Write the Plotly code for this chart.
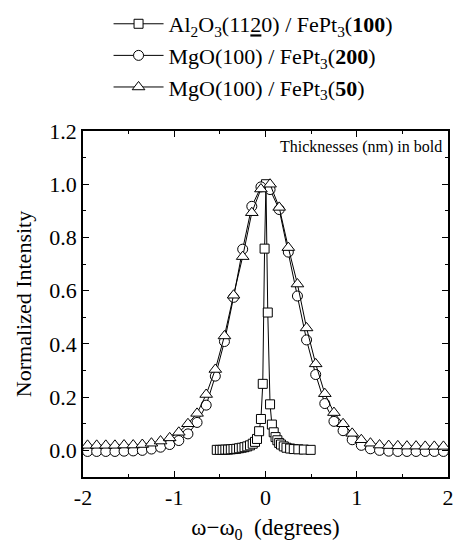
import plotly.graph_objects as go

FONT = "'Liberation Serif', 'DejaVu Serif'"

# MgO(100)/FePt3 films: omega offsets (degrees)
x_mgo = [-1.95, -1.85, -1.75, -1.65, -1.55, -1.45, -1.35, -1.25, -1.15, -1.05,
         -0.95, -0.85, -0.75, -0.65, -0.55, -0.45, -0.35, -0.25, -0.15, -0.05,
         0.05, 0.15, 0.25, 0.35, 0.45, 0.55, 0.65, 0.75, 0.85, 0.95,
         1.05, 1.15, 1.25, 1.35, 1.45, 1.55, 1.65, 1.75, 1.85, 1.95]

# MgO(100) / FePt3 (50 nm) - triangles
y_mgo50 = [0.019, 0.019, 0.019, 0.019, 0.020, 0.020, 0.022, 0.027, 0.035, 0.047,
           0.068, 0.100, 0.139, 0.210, 0.304, 0.430, 0.583, 0.728, 0.893, 0.982,
           1.000, 0.913, 0.762, 0.625, 0.460, 0.325, 0.213, 0.142, 0.100, 0.064,
           0.040, 0.027, 0.020, 0.018, 0.017, 0.016, 0.016, 0.015, 0.015, 0.015]

# MgO(100) / FePt3 (200 nm) - circles
y_mgo200 = [-0.004, -0.004, -0.004, -0.004, -0.003, -0.002, 0.000, 0.005, 0.012, 0.022,
            0.037, 0.062, 0.105, 0.170, 0.279, 0.409, 0.575, 0.756, 0.917, 0.990,
            0.980, 0.905, 0.745, 0.580, 0.415, 0.285, 0.176, 0.109, 0.074, 0.040,
            0.019, 0.006, 0.000, -0.003, -0.004, -0.004, -0.004, -0.004, -0.004, -0.004]

# Al2O3(11-20) / FePt3 (100 nm) - squares
x_al = [-0.534, -0.50, -0.47, -0.44, -0.41, -0.38, -0.35, -0.32, -0.29, -0.26,
        -0.23, -0.20, -0.17, -0.14, -0.115, -0.093, -0.07, -0.05, -0.03, -0.01,
        0.005, 0.025, 0.05, 0.07, 0.09, 0.11, 0.13, 0.15, 0.17, 0.20,
        0.23, 0.27, 0.31, 0.36, 0.42, 0.495]
y_al = [0.002, 0.002, 0.002, 0.003, 0.003, 0.004, 0.005, 0.006, 0.008, 0.010,
        0.012, 0.015, 0.019, 0.025, 0.032, 0.043, 0.072, 0.118, 0.250, 0.758,
        1.000, 0.518, 0.173, 0.097, 0.068, 0.050, 0.038, 0.028, 0.022, 0.015,
        0.010, 0.007, 0.005, 0.004, 0.003, 0.002]

x_ticks = [-2, -1, 0, 1, 2]
y_ticks = [0.0, 0.2, 0.4, 0.6, 0.8, 1.0, 1.2]

names = [
    "Al<sub>2</sub>O<sub>3</sub>(11<u>2</u>0) / FePt<sub>3</sub>(<b>100</b>)",
    "MgO(100) / FePt<sub>3</sub>(<b>200</b>)",
    "MgO(100) / FePt<sub>3</sub>(<b>50</b>)",
]

fig = go.Figure()
series = [
    (x_al, y_al, "square", 9),
    (x_mgo, y_mgo200, "circle", 10),
    (x_mgo, y_mgo50, "triangle-up", 11),
]
for i, (xs, ys, sym, sz) in enumerate(series):
    fig.add_trace(go.Scatter(
        x=xs, y=ys, mode="lines+markers", name=names[i], legendgroup=f"g{i}",
        line=dict(color="black", width=1),
        marker=dict(symbol=sym, size=sz, color="white",
                    line=dict(color="black", width=1)),
    ))

axis_common = dict(
    showgrid=False, zeroline=False, showline=True, linecolor="black", linewidth=1.6,
    mirror="ticks", ticks="inside", ticklen=6, tickwidth=1.2, tickcolor="black",
    tickfont=dict(family=FONT, size=22, color="black"),
    ticklabeloverflow="allow",
)

fig.update_xaxes(
    range=[-2, 2], tickvals=x_ticks, ticktext=[str(v) for v in x_ticks],
    minor=dict(dtick=0.5, ticks="inside", ticklen=3, tickcolor="black", showgrid=False),
    title=dict(text="ω−ω<sub>0</sub>\u00a0 (degrees)", font=dict(family=FONT, size=23, color="black"),
               standoff=10),
    **axis_common,
)
fig.update_yaxes(
    range=[-0.1, 1.2], tickvals=y_ticks, ticktext=[f"{v:.1f}" for v in y_ticks],
    minor=dict(dtick=0.1, tick0=0, ticks="inside", ticklen=3, tickcolor="black", showgrid=False),
    title=dict(text="Normalized Intensity", font=dict(family=FONT, size=22, color="black"),
               standoff=12),
    **axis_common,
)

fig.add_annotation(
    text="Thicknesses (nm) in bold", xref="paper", yref="paper",
    x=0.99, y=0.985, xanchor="right", yanchor="top", showarrow=False,
    font=dict(family=FONT, size=16, color="black"),
)

fig.update_layout(
    width=457, height=547,
    margin=dict(l=83, r=3, t=127, b=70),
    paper_bgcolor="white", plot_bgcolor="white",
    font=dict(family=FONT, color="black"),
    showlegend=True,
    legend=dict(
        x=0.07, y=1.37, xanchor="left", yanchor="top",
        font=dict(family=FONT, size=22, color="black"),
        itemwidth=50, tracegroupgap=7, traceorder="normal",
        bgcolor="rgba(0,0,0,0)",
    ),
)

fig.write_html("out.html")
